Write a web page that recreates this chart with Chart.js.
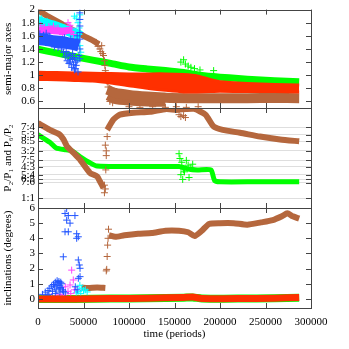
<!DOCTYPE html>
<html>
<head>
<meta charset="utf-8">
<script src="https://cdn.jsdelivr.net/npm/chart.js@4.4.0/dist/chart.umd.min.js"></script>
<style>
  html, body { margin: 0; padding: 0; background: #fff; }
  #wrap { position: relative; width: 349px; height: 349px; }
  #wrap canvas { position: absolute; left: 0; top: 0; }
</style>
</head>
<body>
<div id="wrap">
  <canvas id="axesChart" width="349" height="349"></canvas>
  <canvas id="ratioChart" width="349" height="349"></canvas>
  <canvas id="inclChart" width="349" height="349"></canvas>
</div>
<script>
// ---- tick values / labels ----
const timeTicks = [0, 50000, 100000, 150000, 200000, 250000, 300000];
const axisTicks = [0.6, 0.8, 1, 1.2, 1.4, 1.6, 1.8, 2];
const ratioTicks = [1.75, 1.6667, 1.6, 1.5, 1.4, 1.3333, 1.25, 1.2, 1.1667, 1];
const ratioLabels = ['7:4', '5:3', '8:5', '3:2', '7:5', '4:3', '5:4', '6:5', '7:6', '1:1'];
const inclTicks = [0, 1, 2, 3, 4, 5, 6];

// ---- panel 1: semi-major axes ----
const tBrownA1 = [0, 10000, 20000, 30000, 40000, 50000, 60000, 67000];
const brownA1 = [1.985, 1.905, 1.83, 1.75, 1.675, 1.60, 1.53, 1.47];
const tBrownA2 = [76000, 85000, 100000, 120000, 145000, 170000, 200000, 230000, 260000, 287000];
const brownA2 = [0.78, 0.73, 0.70, 0.675, 0.652, 0.65, 0.65, 0.65, 0.652, 0.65];
const tBrownA3 = [78000, 85000, 100000, 120000, 140000];
const brownA3 = [0.72, 0.67, 0.645, 0.63, 0.625];
const tBrownAStray = [64000, 66000, 68000, 69000, 70000, 71000, 72000, 73000, 73500, 74000, 75000, 75500, 76000, 77000, 79000, 82000, 100000, 112000, 126000, 140000, 152000, 163000, 176000];
const brownAStray = [1.50, 1.44, 1.40, 1.36, 1.45, 1.33, 1.30, 1.22, 1.15, 1.07, 1.00, 0.95, 0.90, 0.82, 0.60, 0.58, 0.52, 0.51, 0.52, 0.51, 0.52, 0.51, 0.52];

const tGreenA = [0, 20000, 40000, 60000, 80000, 100000, 120000, 140000, 160000, 180000, 200000, 220000, 240000, 260000, 287000];
const greenA = [1.395, 1.34, 1.285, 1.23, 1.18, 1.125, 1.095, 1.07, 1.04, 0.995, 0.97, 0.95, 0.93, 0.915, 0.90];
const tGreenAStray = [157000, 160000, 162000, 165000, 168000, 172000, 178000, 193000];
const greenAStray = [1.20, 1.235, 1.17, 1.14, 1.12, 1.10, 1.08, 1.07];

const tRedA = [0, 20000, 40000, 60000, 80000, 100000, 120000, 140000, 160000, 175000, 190000, 200000, 230000, 260000, 287000];
const redAHi = [1.045, 1.04, 1.035, 1.03, 1.025, 1.02, 1.02, 1.02, 1.01, 0.99, 0.93, 0.90, 0.875, 0.86, 0.85];
const redALo = [0.935, 0.93, 0.92, 0.91, 0.88, 0.84, 0.80, 0.77, 0.745, 0.745, 0.75, 0.755, 0.75, 0.75, 0.745];

const tCyanA = [0, 8000, 16000, 24000, 32000, 40000, 47000];
const cyanA = [1.83, 1.79, 1.76, 1.72, 1.68, 1.64, 1.60];
const tCyanAStray = [1000, 4000, 10000, 40000, 42000, 44000, 45000, 46000, 47000, 44000, 46000, 45000];
const cyanAStray = [1.88, 1.86, 1.82, 1.90, 1.87, 1.80, 1.72, 1.45, 1.35, 1.25, 1.92, 1.62];

const tMagentaA = [0, 8000, 16000, 24000, 32000, 38000];
const magentaA = [1.69, 1.69, 1.68, 1.67, 1.68, 1.69];
const tMagentaAStray = [3000, 7000, 12000, 17000, 22000, 27000, 33000, 35000, 37000, 39000, 36000];
const magentaAStray = [1.76, 1.73, 1.74, 1.75, 1.72, 1.62, 1.80, 1.76, 1.66, 1.62, 1.72];

const tBlueA = [0, 8000, 16000, 24000, 32000, 40000, 45000];
const blueA = [1.55, 1.54, 1.52, 1.51, 1.49, 1.47, 1.45];
const tBlueAStray = [2000, 6000, 9000, 13000, 18000, 22000, 26000, 28000, 30000, 32000, 34000, 35000, 37000, 38000, 40000, 41000, 42000, 44000, 45000,
  46000, 46000, 46000, 46000, 46000, 46000, 46000, 43000, 36000, 29000, 33000, 36000, 39000, 41000, 43000, 31000, 38000, 40000, 35000];
const blueAStray = [1.63, 1.61, 1.64, 1.59, 1.43, 1.42, 1.40, 1.35, 1.28, 1.22, 1.18, 1.30, 1.12, 1.25, 1.08, 1.20, 1.15, 1.05, 1.30,
  1.95, 1.85, 1.75, 1.65, 1.55, 1.40, 1.25, 1.60, 1.55, 1.57, 1.32, 1.24, 1.16, 1.10, 1.22, 1.36, 1.33, 1.27, 1.20];

// ---- panel 2: period ratios ----
const tBrownP1 = [0, 13000, 24000, 28000, 32000, 40000, 46000, 57000, 65000, 68000, 72000];
const brownP1 = [1.79, 1.72, 1.67, 1.62, 1.545, 1.47, 1.41, 1.27, 1.23, 1.18, 1.11];
const tBrownP2 = [76000, 83000, 90000, 105000, 123000, 141000, 152000, 163000, 172000, 184000, 193000, 203000, 222000, 244000, 266000, 287000];
const brownP2 = [1.72, 1.83, 1.88, 1.90, 1.91, 1.94, 1.93, 1.94, 1.94, 1.88, 1.755, 1.72, 1.69, 1.65, 1.62, 1.60];
const tBrownPStray = [73000, 74000, 73000, 74500, 75000, 75000, 74000, 76000, 155000, 157000, 160000, 162000];
const brownPStray = [1.14, 1.10, 1.06, 1.30, 1.45, 1.50, 1.56, 1.65, 1.88, 1.86, 1.87, 1.85];

const tGreenP = [0, 13000, 20000, 31000, 37000, 46000, 57000, 65000, 100000, 130000, 155000, 165000, 175000, 190000, 194000, 200000, 240000, 287000];
const greenP = [1.67, 1.59, 1.53, 1.51, 1.50, 1.44, 1.375, 1.34, 1.335, 1.335, 1.335, 1.31, 1.30, 1.30, 1.19, 1.175, 1.175, 1.175];
const tGreenPStray = [155000, 156000, 158000, 157000, 159000, 161000, 163000, 165000, 166000, 168000, 170000, 160000];
const greenPStray = [1.47, 1.42, 1.38, 1.25, 1.20, 1.28, 1.40, 1.35, 1.22, 1.32, 1.36, 1.30];

// ---- panel 3: inclinations ----
const tBrownI1 = [48000, 55000, 65000, 74000];
const brownI1 = [0.75, 0.72, 0.76, 0.72];
const tBrownI2 = [78000, 85000, 95000, 110000, 125000, 140000, 155000, 165000, 172000, 180000, 188000, 200000, 215000, 230000, 245000, 258000, 268000, 274000, 280000, 287000];
const brownI2 = [4.2, 4.1, 4.2, 4.3, 4.35, 4.5, 4.5, 4.4, 4.15, 4.5, 4.95, 5.0, 5.0, 4.9, 5.05, 5.2, 5.45, 5.65, 5.45, 5.3];
const tBrownIStray = [75000, 75500, 76000, 76500, 77000, 77500];
const brownIStray = [1.85, 1.95, 2.8, 3.55, 4.0, 4.6];

const tRedI = [0, 40000, 80000, 120000, 160000, 170000, 180000, 220000, 260000, 287000];
const redI = [0.0, 0.0, 0.02, 0.05, 0.1, 0.12, 0.03, 0.02, 0.05, 0.1];
const greenI = [0.0, 0.0, 0.02, 0.05, 0.08, 0.1, 0.03, 0.02, 0.05, 0.08];

const tBlueI = [5000, 8000, 11000, 13000, 15000, 17000, 19000, 21000, 22000, 23000, 24000, 25000, 26000, 27000, 28000, 30000, 20000, 16000, 24000,
  18000, 21000, 23000, 25000, 19000, 12000, 10000,
  31500, 29700, 33300, 40600, 31500, 35200, 29700, 33300, 42500, 44300, 42500, 27800, 44300, 45400, 46200, 46200, 44300, 41000, 43000];
const blueI = [0.3, 0.45, 0.55, 0.7, 0.85, 0.95, 1.1, 1.2, 1.05, 1.15, 0.9, 0.75, 1.0, 0.6, 0.5, 0.4, 0.6, 0.5, 0.45,
  0.8, 0.9, 0.7, 1.1, 0.35, 0.3, 0.2,
  5.96, 5.64, 5.5, 5.5, 5.2, 5.0, 4.43, 4.43, 4.3, 4.1, 4.0, 2.78, 2.57, 2.24, 2.02, 1.47, 1.36, 0.8, 0.6];
const tMagentaI = [37000, 38800, 35200, 30000, 25000, 20000, 33000, 28000, 36000, 40000, 15000];
const magentaI = [1.9, 1.25, 0.92, 0.8, 0.3, 0.2, 0.5, 0.25, 0.35, 0.6, 0.15];
const tCyanI = [46000, 48000, 50000, 52000, 54000, 44000, 42000, 47000];
const cyanI = [0.9, 0.7, 0.55, 0.6, 0.46, 0.5, 0.4, 0.35];

// ---- colours ----
const BROWN = '#b5673d';
const GREEN = '#00ff00';
const RED = '#ff3000';
const BLUE = '#2255ff';
const MAGENTA = '#ff44ff';
const CYAN = '#00ffff';

const SERIF = "'Liberation Serif', 'DejaVu Serif', serif";
Chart.defaults.font.family = SERIF;
Chart.defaults.font.size = 11;
Chart.defaults.color = '#000';

function pts(ts, vs) {
  return ts.map((t, i) => ({ x: t, y: vs[i] }));
}

function band(ts, vs, color, width, order) {
  return {
    data: pts(ts, vs), showLine: true, borderColor: color, backgroundColor: color,
    borderWidth: width, pointRadius: 0, fill: false, order: order, clip: 0, tension: 0.2
  };
}

function area(ts, vs, color, order, filled) {
  return {
    data: pts(ts, vs), showLine: true, borderColor: color, backgroundColor: color,
    borderWidth: 3, pointRadius: 0, order: order, clip: 0, tension: 0.2,
    fill: filled ? { target: '-1', above: color, below: color } : false
  };
}

function crosses(ts, vs, color, order) {
  return {
    data: pts(ts, vs), showLine: false, pointStyle: 'cross', pointRadius: 3.5,
    pointBorderColor: color, pointBorderWidth: 1, borderColor: color, order: order, clip: 0
  };
}

// inward ticks and box, gnuplot style
const framePlugin = {
  id: 'frame',
  afterDraw(chart) {
    const { ctx, chartArea: a, scales } = chart;
    ctx.save();
    ctx.strokeStyle = '#444';
    ctx.lineWidth = 1;
    ctx.beginPath();
    timeTicks.forEach(t => {
      const px = Math.round(scales.x.getPixelForValue(t)) + 0.5;
      ctx.moveTo(px, a.top); ctx.lineTo(px, a.top + 5);
      ctx.moveTo(px, a.bottom); ctx.lineTo(px, a.bottom - 5);
    });
    scales.y.ticks.forEach(tk => {
      const py = Math.round(scales.y.getPixelForValue(tk.value)) + 0.5;
      ctx.moveTo(a.left, py); ctx.lineTo(a.left + 5, py);
      ctx.moveTo(a.right, py); ctx.lineTo(a.right - 5, py);
    });
    ctx.stroke();
    ctx.strokeRect(Math.round(a.left) + 0.5, Math.round(a.top) + 0.5,
      Math.round(a.right - a.left), Math.round(a.bottom - a.top));
    ctx.restore();
  }
};

function xScale(showLabels) {
  return {
    type: 'linear', min: 0, max: 300000,
    afterBuildTicks: s => { s.ticks = timeTicks.map(v => ({ value: v })); },
    afterFit: s => { s.height = showLabels ? 41 : 0; },
    grid: { display: false, drawTicks: false },
    border: { display: false },
    ticks: { display: showLabels, padding: 8, maxRotation: 0, callback: v => String(v) },
    title: { display: showLabels, text: 'time (periods)', padding: { top: 0, bottom: 8 } }
  };
}

function yScale(min, max, tickVals, label, fmt, grid) {
  return {
    type: 'linear', min: min, max: max,
    afterBuildTicks: s => { s.ticks = tickVals.map(v => ({ value: v })); },
    afterFit: s => { s.width = 38; },
    grid: grid ? { display: true, color: '#dedede', drawTicks: false } : { display: false, drawTicks: false },
    border: { display: false },
    ticks: { autoSkip: false, padding: 3, callback: fmt },
    title: { display: true, text: label, padding: { top: 2, bottom: 0 } }
  };
}

function makeChart(id, datasets, padTop, padBottom, yOpts, showX) {
  return new Chart(document.getElementById(id), {
    type: 'scatter',
    data: { datasets: datasets },
    options: {
      responsive: false, animation: false, devicePixelRatio: 1,
      layout: { padding: { top: padTop, bottom: padBottom, left: 0, right: 38 } },
      plugins: { legend: { display: false }, tooltip: { enabled: false } },
      scales: { x: xScale(showX), y: yOpts }
    },
    plugins: [framePlugin]
  });
}

makeChart('axesChart', [
  band(tGreenA, greenA, GREEN, 7, 9),
  crosses(tGreenAStray, greenAStray, GREEN, 9),
  band(tBrownA1, brownA1, BROWN, 6, 8),
  band(tBrownA2, brownA2, BROWN, 10, 8),
  band(tBrownA3, brownA3, BROWN, 14, 8),
  crosses(tBrownAStray, brownAStray, BROWN, 8),
  area(tRedA, redAHi, RED, 7, false),
  area(tRedA, redALo, RED, 7, true),
  band(tCyanA, cyanA, CYAN, 10, 6),
  crosses(tCyanAStray, cyanAStray, CYAN, 6),
  band(tMagentaA, magentaA, MAGENTA, 7, 5),
  crosses(tMagentaAStray, magentaAStray, MAGENTA, 5),
  band(tBlueA, blueA, BLUE, 12, 4),
  crosses(tBlueAStray, blueAStray, BLUE, 4)
], 8, 241, yScale(0.5, 2.0, axisTicks, 'semi-major axes', v => String(v), false), false);

makeChart('ratioChart', [
  band(tGreenP, greenP, GREEN, 5, 9),
  crosses(tGreenPStray, greenPStray, GREEN, 9),
  band(tBrownP1, brownP1, BROWN, 6, 8),
  band(tBrownP2, brownP2, BROWN, 6, 8),
  crosses(tBrownPStray, brownPStray, BROWN, 8)
], 108, 141, yScale(0.9, 1.95, ratioTicks, 'P\u2082/P\u2081 and P\u2086/P\u2082',
  v => ratioLabels[ratioTicks.indexOf(v)], true), false);

makeChart('inclChart', [
  band(tRedI, greenI, GREEN, 8, 9),
  band(tBrownI1, brownI1, BROWN, 6, 8),
  band(tBrownI2, brownI2, BROWN, 6, 8),
  crosses(tBrownIStray, brownIStray, BROWN, 8),
  crosses(tCyanI, cyanI, CYAN, 6),
  crosses(tMagentaI, magentaI, MAGENTA, 5),
  crosses(tBlueI, blueI, BLUE, 4),
  band(tRedI, redI, RED, 7, 3)
], 208, 0, yScale(-0.6, 6, inclTicks, 'inclinations (degrees)', v => String(v), false), true);
</script>
</body>
</html>
